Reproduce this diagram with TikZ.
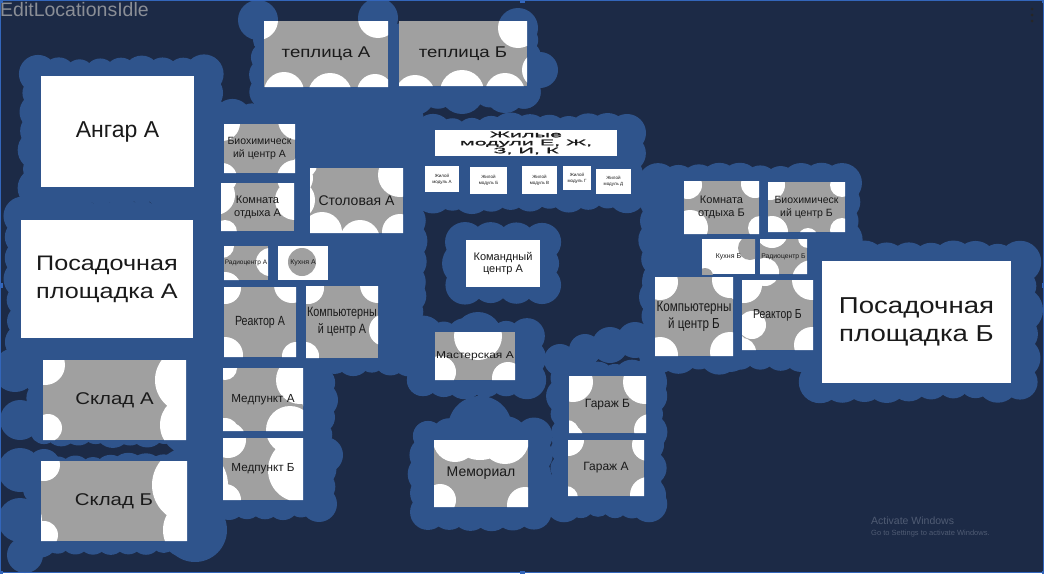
\documentclass[tikz,border=0pt]{standalone}
\usepackage{fontspec}
\setmainfont{Liberation Sans}
\newfontfamily\wide[FakeStretch=1.2]{Liberation Sans}
\newfontfamily\cond[FakeStretch=0.8]{Liberation Sans}
\newfontfamily\xwide[FakeStretch=2.7,FakeBold=1.5]{Liberation Sans}
\definecolor{navy}{HTML}{1C2A46}
\definecolor{blob}{HTML}{2F548C}
\definecolor{boxgrey}{HTML}{A0A0A0}
\definecolor{ink}{HTML}{1A1A1A}
\definecolor{titlegrey}{HTML}{8A8E96}
\definecolor{wm}{HTML}{4F5B73}
\definecolor{framecol}{HTML}{3366BB}
\newcommand\fs[2]{\fontsize{#1}{#2}\selectfont}
\newcommand\mkroom[7]{\node[room, font=#6, minimum width={#4pt-#2pt}, minimum height={#5pt-#3pt}] (#1) at ({(#2+#4)/2},{(#3+#5)/2}) {#7};}
% light circles: white inside boxes, blue outside
\newcommand\spots{258/20/20, 378/18/20, 284/92/20, 330/95/22, 375/92/18,
 415/95/20, 462/92/22, 505/93/20, 518/28/20,
 222/123/18, 298/120/20, 222/178/15, 295/178/18,
 215/195/20, 295/200/20, 225/232/12,
 305/165/12, 400/175/22, 322/232/20, 360/240/20, 400/232/18,
 222/246/12, 270/262/14,
 225/288/16, 292/285/18, 225/355/18, 296/356/14,
 308/288/16, 378/285/18, 385/330/16, 305/356/14,
 225/368/12, 300/380/24, 290/430/24, 225/432/14,
 228/440/18, 300/470/32, 225/500/16,
 45/365/20, 188/380/33, 190/425/30, 48/428/14,
 44/465/16, 190/485/38, 195/530/32, 44/535/14,
 478/336/24, 440/372/16, 508/378/16,
 480/428/32, 455/440/22, 505/440/24, 440/500/16, 525/505/18,
 573/382/20, 645/382/22, 650/430/16, 567/432/12,
 568/440/16, 648/445/16, 648/495/18, 566/498/12,
 660/282/18, 730/280/18, 660/355/18, 730/352/20,
 744/285/18, 812/280/20, 752/325/14, 742/352/14, 812/345/18,
 765/272/14, 808/238/10,
 688/185/14, 690/228/18, 755/184/14, 760/228/12,
 770/185/15, 772/232/16, 842/185/12, 842/230/12,
 15/370/22, 20/420/20, 20/470/22, 20/520/22, 25/555/18,
 560/360/16, 585/350/16, 610/345/18, 635/340/18,
 540/70/18, 320/400/18, 325/455/18, 320/505/16}
% blue-only regions: x1/y1/x2/y2/R (scalloped edges)
\newcommand\rects{20/56/222/206/18, 5/198/220/360/18, 28/350/215/446/16, 24/455/215/556/16,
 250/24/540/108/16, 195/100/425/300/18, 195/280/335/520/16, 300/280/425/375/16,
 415/115/645/212/18, 445/222/562/305/20, 405/318/545/398/18, 410/418/552/530/18,
 548/362/665/520/16, 640/165/860/372/18, 800/242/1040/402/20}
\newcommand\scallop[5]{%
  \pgfmathsetmacro\ia{#1+#5}\pgfmathsetmacro\ib{#2+#5}%
  \pgfmathsetmacro\ic{#3-#5}\pgfmathsetmacro\id{#4-#5}%
  \fill[blob] (\ia,\ib) rectangle (\ic,\id);
  \pgfmathtruncatemacro\nx{max(1,round((\ic-\ia)/(#5*1.1)))}%
  \pgfmathtruncatemacro\ny{max(1,round((\id-\ib)/(#5*1.1)))}%
  \foreach \k in {0,...,\nx}{%
    \pgfmathsetmacro\xx{\ia+\k*(\ic-\ia)/\nx}%
    \pgfmathsetmacro\ra{#5*(0.8+0.35*rnd)}%
    \pgfmathsetmacro\rb{#5*(0.8+0.35*rnd)}%
    \fill[blob] (\xx,\ib) circle (\ra) (\xx,\id) circle (\rb);}
  \foreach \k in {0,...,\ny}{%
    \pgfmathsetmacro\yy{\ib+\k*(\id-\ib)/\ny}%
    \pgfmathsetmacro\ra{#5*(0.8+0.35*rnd)}%
    \pgfmathsetmacro\rb{#5*(0.8+0.35*rnd)}%
    \fill[blob] (\ia,\yy) circle (\ra) (\ic,\yy) circle (\rb);}
}
\pgfdeclarelayer{bg}
\pgfdeclarelayer{boxes}
\pgfdeclarelayer{spotl}
\pgfsetlayers{bg,boxes,spotl,main}
\begin{document}
\begin{tikzpicture}[x=1pt,y=-1pt,
  room/.style={inner sep=0pt, outer sep=0pt, align=center, text=ink}]
\pgfmathsetseed{11}
\useasboundingbox (0,0) rectangle (1044,573);
% ---------- rooms ----------
\mkroom{teplA}{264}{21}{388}{87}{\wide\fs{15.5}{18}}{теплица А}
\mkroom{teplB}{399}{21}{527}{86}{\wide\fs{15.5}{18}}{теплица Б}
\mkroom{angar}{41}{76}{194}{187}{\fs{23}{27}}{Ангар А}
\mkroom{bioA}{224}{124}{295}{173}{\fs{10.5}{13}}{Биохимическ\\ий центр А}
\mkroom{komA}{221}{183}{294}{231}{\fs{11}{13}}{Комната\\отдыха А}
\mkroom{stol}{310}{168}{403}{233}{\fs{14}{16}}{Столовая А}
\mkroom{radA}{224}{246}{268}{280}{\fs{6.5}{8}}{Радиоцентр А}
\mkroom{kuhA}{278}{246}{328}{280}{\fs{7}{8}}{Кухня А}
\mkroom{reaA}{224}{287}{296}{357}{\cond\fs{13.3}{16}}{Реактор А}
\mkroom{compA}{306}{286}{378}{358}{\cond\fs{13.5}{16.5}}{Компьютерны\\й центр А}
\mkroom{medA}{223}{368}{303}{431}{\fs{11.7}{14}}{Медпункт А}
\mkroom{medB}{223}{438}{303}{500}{\fs{11.7}{14}}{Медпункт Б}
\mkroom{posA}{21}{220}{193}{338}{\wide\fs{21}{28}}{Посадочная\\площадка А}
\mkroom{skladA}{43}{360}{186}{440}{\wide\fs{17}{20}}{Склад А}
\mkroom{skladB}{41}{461}{187}{541}{\wide\fs{17}{20}}{Склад Б}
\mkroom{zhil}{435}{130}{617}{156}{\xwide\fs{8}{8}}{Жилые\\модули Е, Ж,\\З, И, К}
\mkroom{zha}{425}{166}{459}{192}{\fs{4.5}{6}}{Жилой\\модуль А}
\mkroom{zhb}{470}{167}{507}{194}{\fs{4.5}{6}}{Жилой\\модуль Б}
\mkroom{zhv}{522}{166}{557}{194}{\fs{4.5}{6}}{Жилой\\модуль В}
\mkroom{zhg}{563}{166}{591}{190}{\fs{4.5}{6}}{Жилой\\модуль Г}
\mkroom{zhd}{596}{169}{631}{194}{\fs{4.5}{6}}{Жилой\\модуль Д}
\mkroom{cmd}{466}{240}{540}{287}{\fs{11}{12.5}}{Командный\\центр А}
\mkroom{master}{435}{332}{515}{380}{\wide\fs{10}{12}}{Мастерская А}
\mkroom{memor}{434}{440}{528}{507}{\fs{14}{16}}{Мемориал}
\mkroom{garB}{569}{376}{646}{433}{\fs{12}{14}}{Гараж Б}
\mkroom{garA}{568}{440}{644}{496}{\fs{12}{14}}{Гараж А}
\mkroom{compB}{655}{277}{733}{356}{\cond\fs{14.5}{17}}{Компьютерны\\й центр Б}
\mkroom{reaB}{742}{280}{813}{350}{\cond\fs{13}{16}}{Реактор Б}
\mkroom{kuhB}{702}{239}{755}{274}{\fs{7}{8}}{Кухня Б}
\mkroom{radB}{760}{239}{807}{274}{\fs{6.8}{8}}{Радиоцентр Б}
\mkroom{komB}{684}{181}{759}{234}{\fs{11}{13}}{Комната\\отдыха Б}
\mkroom{bioB}{768}{182}{845}{232}{\fs{10.5}{13}}{Биохимическ\\ий центр Б}
\mkroom{posB}{822}{261}{1011}{383}{\wide\fs{23}{28}}{Посадочная\\площадка Б}
% ---------- overlay texts ----------
\node[anchor=north west, inner sep=0pt, text=titlegrey, font=\fs{19.5}{22}] (title) at (0,2) {EditLocationsIdle};
\node[anchor=west, inner sep=0pt, text=wm, font=\fs{10.5}{12}] (actwin) at (871,521) {Activate Windows};
\node[anchor=west, inner sep=0pt, text=wm, font=\fs{7.5}{9}] (gotoset) at (871,534) {Go to Settings to activate Windows.};
\foreach \yy [count=\i] in {9,15,21} \fill[black!85] (1032,\yy) circle (1.5) coordinate (dot\i);
% ---------- background and blob ----------
\begin{pgfonlayer}{bg}
\fill[navy] (0,0) rectangle (1044,573);
\foreach \a/\b/\c/\d/\R in \rects {\scallop{\a}{\b}{\c}{\d}{\R}}
\fill[blob] \foreach \x/\y/\r in \spots {(\x,\y) circle (\r)};
\end{pgfonlayer}
% ---------- box fills ----------
\begin{pgfonlayer}{boxes}
\foreach \n in {teplA,teplB,bioA,komA,stol,radA,reaA,compA,medA,medB,skladA,skladB,master,memor,garB,garA,compB,reaB,radB,komB,bioB}
  \fill[boxgrey] (\n.south west) rectangle (\n.north east);
\foreach \n in {angar,posA,posB,cmd,zhil,zha,zhb,zhv,zhg,zhd,kuhA,kuhB}
  \fill[white] (\n.south west) rectangle (\n.north east);
\end{pgfonlayer}
% ---------- light spots inside boxes ----------
\begin{pgfonlayer}{spotl}
\begin{scope}
\clip \foreach \n in {teplA,teplB,bioA,komA,stol,radA,reaA,compA,medA,medB,skladA,skladB,master,memor,garB,garA,compB,reaB,radB,komB,bioB} {(\n.south west) rectangle (\n.north east)};
\fill[white] \foreach \x/\y/\r in \spots {(\x,\y) circle (\r)};
\end{scope}
\begin{scope}
\clip (kuhA.south west) rectangle (kuhA.north east);
\fill[boxgrey] (302,262) circle (14);
\end{scope}
\begin{scope}
\clip (kuhB.south west) rectangle (kuhB.north east);
\fill[boxgrey] (750,248) circle (12) (705,276) circle (8);
\end{scope}
\end{pgfonlayer}
% ---------- frame ----------
\draw[framecol, line width=1.2pt] (0.6,0.6) rectangle (1043.4,572.4);
\foreach \hx/\hy in {0/0,522/0,1044/0,0/285,1044/285,0/573,522/573,1044/573}
  \fill[framecol] (\hx-2.5,\hy-2.5) rectangle (\hx+2.5,\hy+2.5);
\end{tikzpicture}
\end{document}
